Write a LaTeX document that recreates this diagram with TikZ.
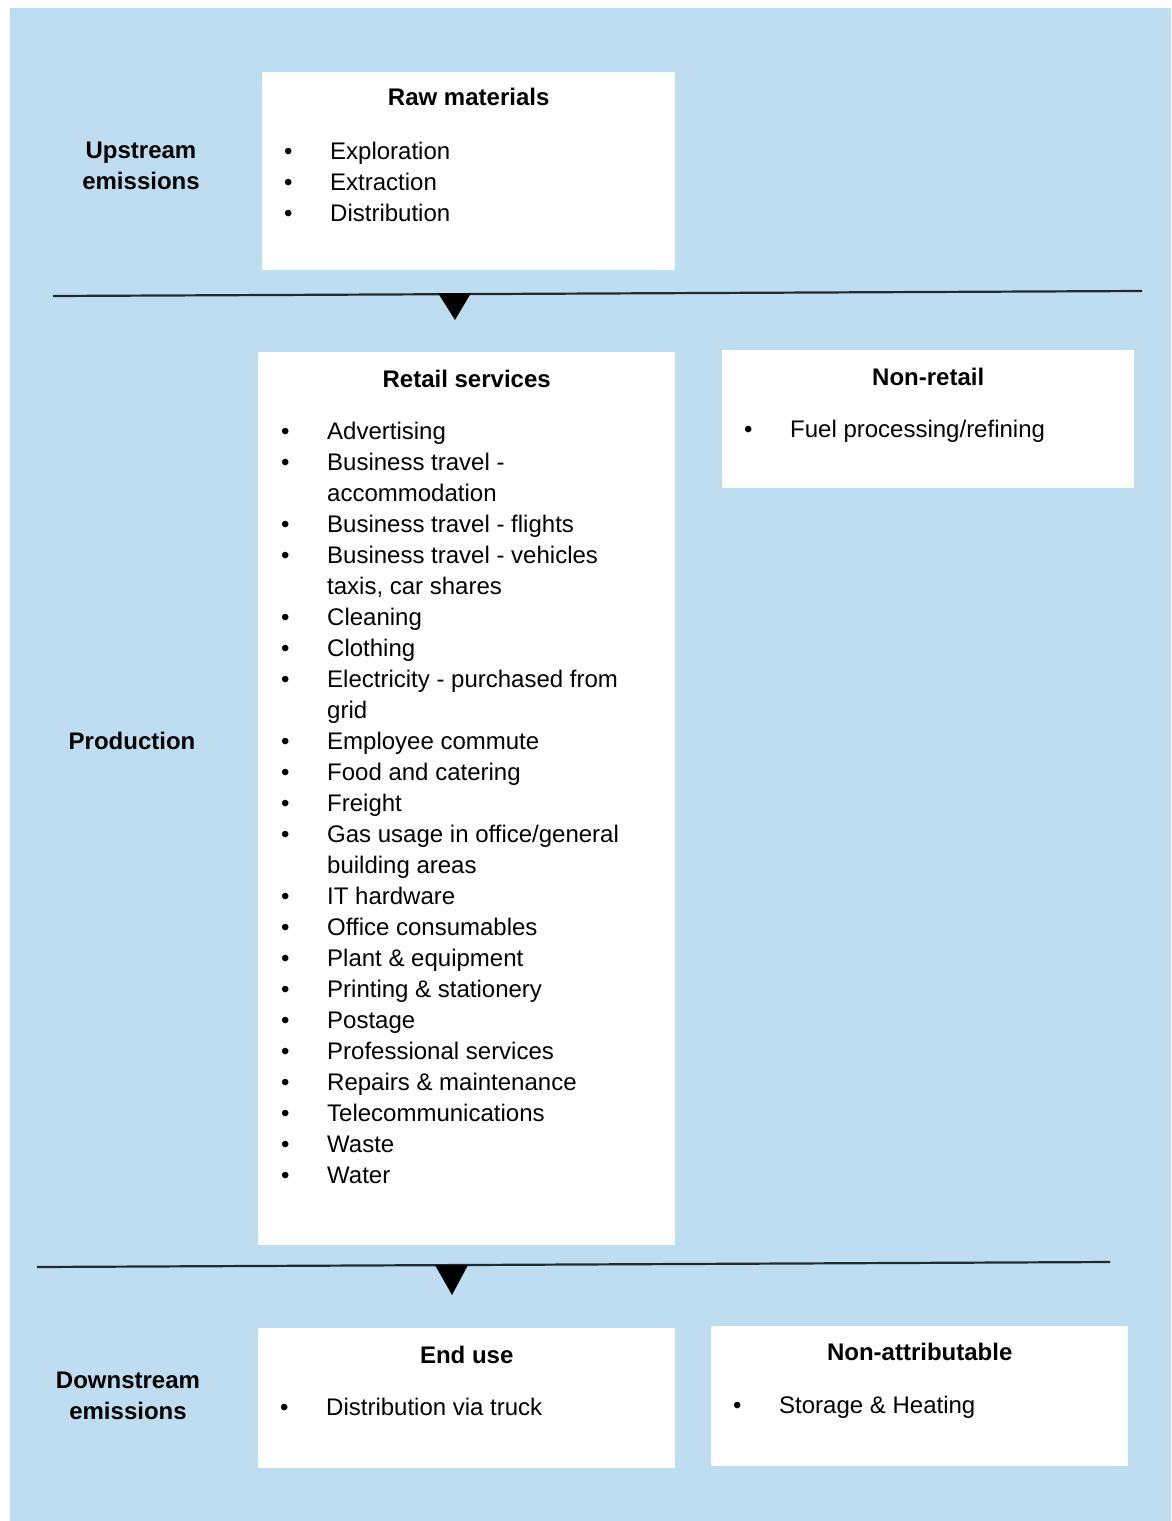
\documentclass[tikz,border=0pt]{standalone}
\usepackage{fontspec}
\setmainfont{Liberation Sans}
\usetikzlibrary{positioning,calc}
\definecolor{panelblue}{HTML}{BEDDF1}
\definecolor{ruleink}{HTML}{1F2B30}

\tikzset{
  box/.style={fill=white, inner sep=0pt, anchor=north west},
  boxtitle/.style={anchor=base, inner sep=0pt, font=\fontsize{24}{31}\selectfont\bfseries},
  boxlist/.style={anchor=base west, inner sep=0pt, align=left},
  sidelabel/.style={align=center, inner sep=0pt, font=\fontsize{24}{31}\selectfont\bfseries},
  divider/.style={line width=2.2pt, color=ruleink},
}
\newcommand{\pt}{\textbullet &}
\newenvironment{bulletlist}{\begin{tabular}[t]{@{}p{46pt}@{}l@{}}}{\end{tabular}}

\begin{document}
\begin{tikzpicture}[x=1pt, y=-1pt, every node/.append style={font=\fontsize{24}{31}\selectfont}]
\useasboundingbox[fill=white] (0,0) rectangle (1171,1521);
\fill[panelblue] (10,8) rectangle (1171,1521);

% boxes
\node[box, minimum width=413pt, minimum height=198pt] (raw) at (262,72) {};
\node[box, minimum width=417pt, minimum height=893pt] (retail) at (258,352) {};
\node[box, minimum width=412pt, minimum height=138pt] (nonretail) at (722,350) {};
\node[box, minimum width=417pt, minimum height=140pt] (enduse) at (258,1328) {};
\node[box, minimum width=417pt, minimum height=140pt] (nonattr) at (711,1326) {};

% titles
\node[boxtitle] (rawT) at ([yshift=-33pt]raw.north) {Raw materials};
\node[boxtitle] (retailT) at ([yshift=-35pt]retail.north) {Retail services};
\node[boxtitle] (nonretailT) at ([yshift=-35pt]nonretail.north) {Non-retail};
\node[boxtitle] (enduseT) at ([yshift=-35pt]enduse.north) {End use};
\node[boxtitle] (nonattrT) at ([yshift=-34pt]nonattr.north) {Non-attributable};

% lists
\node[boxlist] (rawL) at ([xshift=22pt, yshift=-87pt]raw.north west) {\begin{bulletlist}
\pt Exploration\\
\pt Extraction\\
\pt Distribution
\end{bulletlist}};
\node[boxlist] (retailL) at ([xshift=23pt, yshift=-87pt]retail.north west) {\begin{bulletlist}
\pt Advertising\\
\pt Business travel -\\
 & accommodation\\
\pt Business travel - flights\\
\pt Business travel - vehicles\\
 & taxis, car shares\\
\pt Cleaning\\
\pt Clothing\\
\pt Electricity - purchased from\\
 & grid\\
\pt Employee commute\\
\pt Food and catering\\
\pt Freight\\
\pt Gas usage in office/general\\
 & building areas\\
\pt IT hardware\\
\pt Office consumables\\
\pt Plant \& equipment\\
\pt Printing \& stationery\\
\pt Postage\\
\pt Professional services\\
\pt Repairs \& maintenance\\
\pt Telecommunications\\
\pt Waste\\
\pt Water
\end{bulletlist}};
\node[boxlist] (nonretailL) at ([xshift=22pt, yshift=-87pt]nonretail.north west) {\begin{bulletlist}
\pt Fuel processing/refining
\end{bulletlist}};
\node[boxlist] (enduseL) at ([xshift=22pt, yshift=-87pt]enduse.north west) {\begin{bulletlist}
\pt Distribution via truck
\end{bulletlist}};
\node[boxlist] (nonattrL) at ([xshift=22pt, yshift=-87pt]nonattr.north west) {\begin{bulletlist}
\pt Storage \& Heating
\end{bulletlist}};

% side labels
\node[sidelabel] (upstream) at (141,166) {Upstream\\emissions};
\node[sidelabel] (production) at (132,741) {Production};
\node[sidelabel] (downstream) at (128,1396) {Downstream\\emissions};

% dividers
\coordinate (d1a) at (53,296);
\coordinate (d1b) at (1142,291);
\coordinate (t1) at (455,293);
\coordinate (d2a) at (37,1267);
\coordinate (d2b) at (1110,1262);
\coordinate (t2) at (452,1265);
\draw[divider] (d1a) -- (d1b);
\draw[divider] (d2a) -- (d2b);
\fill[black] ($(t1)+(-17,0)$) -- ($(t1)+(16,0)$) -- ($(t1)+(0,27)$) -- cycle;
\fill[black] ($(t2)+(-17,0)$) -- ($(t2)+(16,0)$) -- ($(t2)+(0,30)$) -- cycle;
\end{tikzpicture}
\end{document}
